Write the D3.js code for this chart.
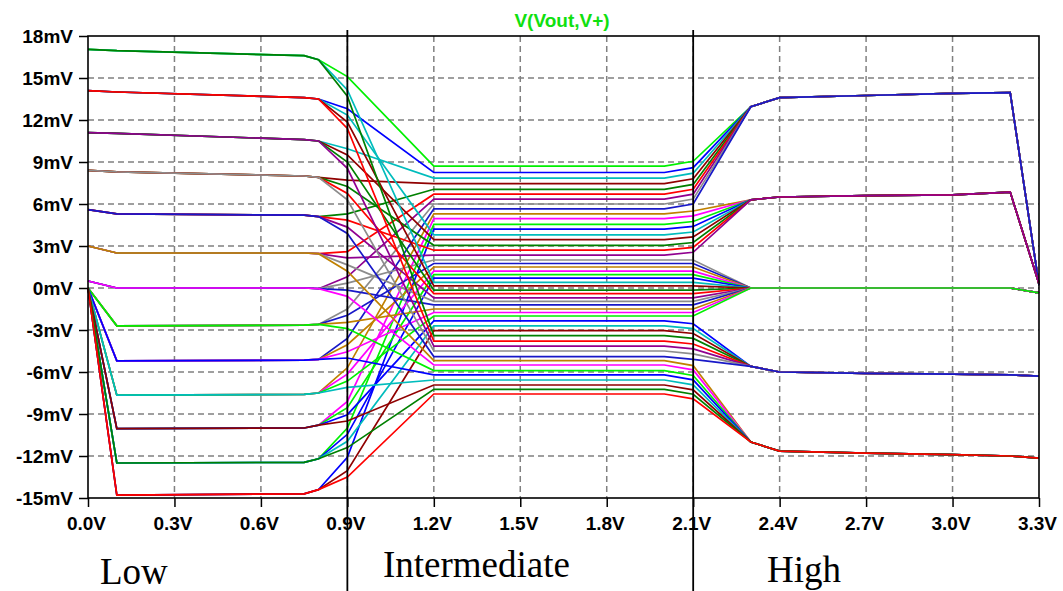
<!DOCTYPE html>
<html>
<head>
<meta charset="utf-8">
<script src="https://cdn.jsdelivr.net/npm/d3@7"></script>
<style>
  body { margin: 0; background: #fff; }
  .tick text { font-family: "Liberation Sans", Arial, sans-serif; font-weight: bold; font-size: 19px; fill: #000; }
  .tick line { stroke: #000; stroke-width: 1.5; }
</style>
</head>
<body>
<svg width="1063" height="591"></svg>
<script>
var svg = d3.select("svg"),
  width = +svg.attr("width"),
  height = +svg.attr("height");

// axis ticks
var xTicks = [0, 0.3, 0.6, 0.9, 1.2, 1.5, 1.8, 2.1, 2.4, 2.7, 3.0, 3.3];
var yTicks = [18, 15, 12, 9, 6, 3, 0, -3, -6, -9, -12, -15];
var regionEdges = [0.9, 2.1];
var regionNames = ["Low", "Intermediate", "High"];

// low input region: 13 output levels (mV), read at x = 0, 0.1, 0.75, 0.8, 0.9 V
var lowX = [0, 0.1, 0.75, 0.8, 0.9];
var lowStart = [17.05, 14.1, 11.1, 8.4, 5.6, 3.0, 0.5, 0, 0, 0, 0, 0, 0];
var lowFlat = [16.95, 14.0, 11.05, 8.3, 5.3, 2.5, 0.0, -2.7, -5.2, -7.65, -10.05, -12.5, -14.8];
var lowKnee = [16.6, 13.6, 10.6, 8.0, 5.2, 2.5, 0.0, -2.65, -5.15, -7.6, -10.0, -12.45, -14.7];
var lowEnd = [16.3, 13.5, 10.5, 7.9, 5.1, 2.45, -0.05, -2.6, -5.1, -7.5, -9.8, -12.2, -14.4];
var lowEdge = [14.4, 12.1, 9.25, 7.0, 4.6, 1.9, 0.1, -2.2, -4.3, -6.4, -8.8, -10.7, -12.8];
var edgeSpread = [0.7, 0.25, -0.25, -0.7];

// which low level / sweep block each stepped trace belongs to
var lowGroup = [
  0, 1, 2, 3, 4, 5, 6, 7, 8, 9, 10, 11, 12,
  1, 2, 3, 4, 5, 6, 7, 8, 9, 10, 11,
  0, 1, 2, 3, 4, 5, 6, 7, 8, 9, 10, 11, 12,
  0, 1, 2, 3, 4, 5, 6, 7, 8, 9, 10, 11, 12
];
var sweepBlock = [
  0, 0, 0, 0, 0, 0, 0, 0, 0, 0, 0, 0, 0,
  1, 1, 1, 1, 1, 1, 1, 1, 1, 1, 1,
  2, 2, 2, 2, 2, 2, 2, 2, 2, 2, 2, 2, 2,
  3, 3, 3, 3, 3, 3, 3, 3, 3, 3, 3, 3, 3
];

// intermediate region plateau (mV), one per trace
var midX = [1.2, 2.0, 2.1];
var midLevel = [
  8.7, 8.25, 7.85, 7.45, 7.05, 6.7, 6.35, 6.0, 5.65,
  5.3, 4.95, 4.55, 4.2, 3.8, 3.45, 3.05, 2.7, 2.35,
  2.0, 1.75, 1.5, 1.2, 0.95, 0.7, 0.4, 0.15, -0.15, -0.4, -0.7, -0.95, -1.2, -1.5, -1.75, -2.0,
  -2.35, -2.7, -3.05, -3.4, -3.8, -4.15, -4.5, -4.9,
  -5.19, -5.5, -5.9, -6.21, -6.57, -6.93, -7.24, -7.57
];
var highGroup = [
  0, 0, 0, 0, 0, 0, 0, 0, 0,
  1, 1, 1, 1, 1, 1, 1, 1, 1,
  2, 2, 2, 2, 2, 2, 2, 2, 2, 2, 2, 2, 2, 2, 2, 2,
  3, 3, 3, 3, 3, 3, 3, 3,
  4, 4, 4, 4, 4, 4, 4, 4
];
var midShift = [0.35, 0.2, 0, -0.2, -0.35];

// high input region: 5 output levels (mV)
var highX = [2.3, 2.4, 2.7, 3.0, 3.2, 3.3];
var highLevels = [
  [12.95, 13.6, 13.75, 13.9, 13.95, 0.2],
  [6.3, 6.5, 6.6, 6.65, 6.85, 0.3],
  [0, 0, 0, 0, 0, -0.35],
  [-5.6, -6.0, -6.1, -6.15, -6.2, -6.3],
  [-11.0, -11.65, -11.8, -11.9, -12.0, -12.15]
];

// LTspice step colours
var palette = ["#00f000", "#0000ff", "#00bcbc", "#900000", "#008000", "#ff0000",
  "#900090", "#8c8c8c", "#1818c8", "#c08000", "#ff00ff"];

var x = d3.scaleLinear().domain([0, 3.3]).range([88, 1039]);
var y = d3.scaleLinear().domain([-15, 18]).range([498, 36]);

// grid
var grid = svg.append("g").attr("class", "grid")
  .attr("stroke", "#808080").attr("stroke-width", 1.5).attr("stroke-dasharray", "6,4");
grid.selectAll("line.h")
  .data(yTicks.slice(1, -1))
  .enter().append("line")
  .attr("x1", x(0)).attr("x2", x(3.3))
  .attr("y1", function (d) { return y(d); })
  .attr("y2", function (d) { return y(d); });
grid.selectAll("line.v")
  .data(xTicks.slice(1, -1))
  .enter().append("line")
  .attr("y1", y(18)).attr("y2", y(-15))
  .attr("x1", function (d) { return x(d); })
  .attr("x2", function (d) { return x(d); });

// traces
function tracePoints(i) {
  var g = lowGroup[i], b = sweepBlock[i], h = highGroup[i];
  var pts = [
    [lowX[0], lowStart[g]],
    [lowX[1], lowFlat[g]],
    [lowX[2], lowKnee[g]],
    [lowX[3], lowEnd[g]],
    [lowX[4], lowEdge[g] + edgeSpread[b]],
    [midX[0], midLevel[i]],
    [midX[1], midLevel[i]],
    [midX[2], midLevel[i] + midShift[h]]
  ];
  highX.forEach(function (hx, k) {
    pts.push([hx, highLevels[h][k]]);
  });
  return pts;
}

var line = d3.line()
  .x(function (d) { return x(d[0]); })
  .y(function (d) { return y(d[1]); });

svg.append("g").attr("class", "traces")
  .selectAll("path")
  .data(midLevel.map(function (m, i) { return tracePoints(i); }))
  .enter().append("path")
  .attr("d", line)
  .attr("fill", "none")
  .attr("stroke-width", 1.7)
  .attr("stroke", function (d, i) { return palette[i % palette.length]; });

// frame
svg.append("rect")
  .attr("x", x(0)).attr("y", y(18))
  .attr("width", x(3.3) - x(0)).attr("height", y(-15) - y(18))
  .attr("fill", "none").attr("stroke", "#000").attr("stroke-width", 1.6);

// axes
var yAxis = d3.axisLeft(y).tickValues(yTicks).tickSize(9).tickPadding(6)
  .tickFormat(function (d) { return d + "mV"; });
svg.append("g").attr("transform", "translate(" + x(0) + ",0)").call(yAxis)
  .call(function (g) { g.select(".domain").remove(); });

var xAxis = d3.axisBottom(x).tickValues(xTicks).tickSize(9).tickPadding(10)
  .tickFormat(function (d) { return d3.format(".1f")(d) + "V"; });
svg.append("g").attr("transform", "translate(0," + y(-15) + ")").call(xAxis)
  .call(function (g) { g.select(".domain").remove(); })
  .selectAll("text").attr("dx", -2);

// region dividers
svg.selectAll("line.divider")
  .data(regionEdges)
  .enter().append("line")
  .attr("class", "divider")
  .attr("x1", function (d) { return x(d); })
  .attr("x2", function (d) { return x(d); })
  .attr("y1", 30).attr("y2", height)
  .attr("stroke", "#000").attr("stroke-width", 1.8);

// title
svg.append("text")
  .attr("x", 562).attr("y", 27)
  .attr("text-anchor", "middle")
  .attr("font-family", "Liberation Sans, Arial, sans-serif")
  .attr("font-weight", "bold").attr("font-size", 19)
  .attr("fill", "#10e010")
  .text("V(Vout,V+)");

// region labels
var labelX = [100, 383, 767];
var labelY = [584, 577, 582];
svg.selectAll("text.region")
  .data(regionNames)
  .enter().append("text")
  .attr("class", "region")
  .attr("x", function (d, i) { return labelX[i]; })
  .attr("y", function (d, i) { return labelY[i]; })
  .attr("font-family", "Liberation Serif, Times New Roman, serif")
  .attr("font-size", 37)
  .attr("fill", "#000")
  .text(function (d) { return d; });
</script>
</body>
</html>
